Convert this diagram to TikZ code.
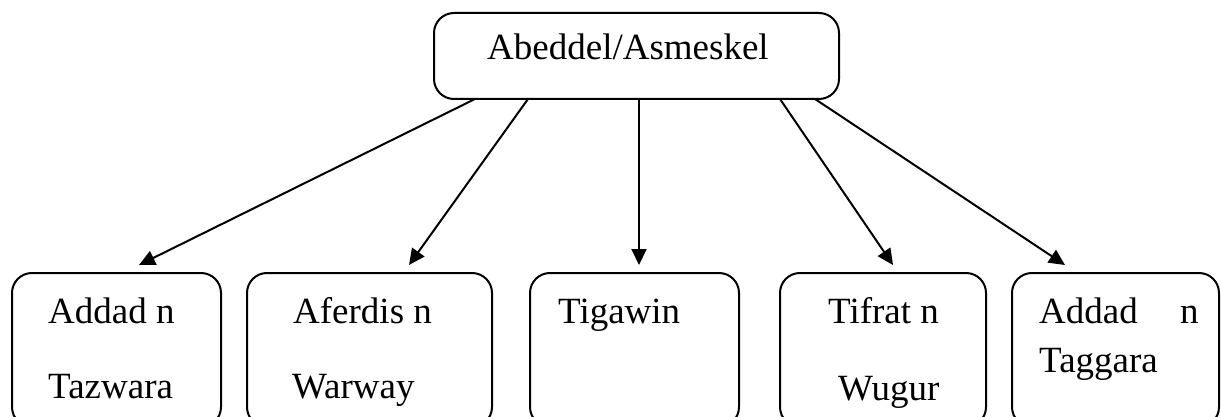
\documentclass[tikz,border=0pt]{standalone}
\usepackage{fontspec}
\setmainfont{Liberation Serif}
\usetikzlibrary{arrows.meta}
\begin{document}
\begin{tikzpicture}[x=1pt,y=-1pt,
  boxstyle/.style={draw,line width=2pt,rounded corners=20pt},
  lbl/.style={anchor=base west,inner sep=0pt,font=\fontsize{37}{40}\selectfont},
  conn/.style={line width=2pt,-{Triangle[length=16pt,width=15pt]}}]
\useasboundingbox (0,0) rectangle (1221,417);
\clip (0,0) rectangle (1221,417);
% boxes
\node[boxstyle,minimum width=405pt,minimum height=86pt] (top) at (636.5,56) {};
\node[boxstyle,minimum width=209pt,minimum height=154pt] (b1) at (116.5,350) {};
\node[boxstyle,minimum width=245pt,minimum height=154pt] (b2) at (369.5,350) {};
\node[boxstyle,minimum width=209pt,minimum height=154pt] (b3) at (634.5,350) {};
\node[boxstyle,minimum width=206pt,minimum height=154pt] (b4) at (883,350) {};
\node[boxstyle,minimum width=207pt,minimum height=154pt] (b5) at (1115.5,350) {};
% texts
\node[lbl] (ttop) at (487,60) {Abeddel/Asmeskel};
\node[lbl] (t1a) at (48,323) {Addad n};
\node[lbl] (t1b) at (48,398) {Tazwara};
\node[lbl] (t2a) at (293,323) {Aferdis n};
\node[lbl] (t2b) at (292,398) {Warway};
\node[lbl] (t3a) at (558,323) {Tigawin};
\node[lbl] (t4a) at (828,323) {Tifrat n};
\node[lbl] (t4b) at (838,400) {Wugur};
\node[lbl] (t5a) at (1039,323) {Addad};
\node[lbl] (t5n) at (1180,323) {n};
\node[lbl] (t5b) at (1039,372) {Taggara};
% arrow ends
\coordinate (s1) at (475,99);
\coordinate (s2) at (528,99);
\coordinate (s3) at (639,99);
\coordinate (s4) at (780,99);
\coordinate (s5) at (815,99);
\coordinate (e1) at (139,265);
\coordinate (e2) at (409,265);
\coordinate (e3) at (639,265);
\coordinate (e4) at (893,265);
\coordinate (e5) at (1065,265);
\draw[conn] (s1) -- (e1);
\draw[conn] (s2) -- (e2);
\draw[conn] (s3) -- (e3);
\draw[conn] (s4) -- (e4);
\draw[conn] (s5) -- (e5);
\end{tikzpicture}
\end{document}
